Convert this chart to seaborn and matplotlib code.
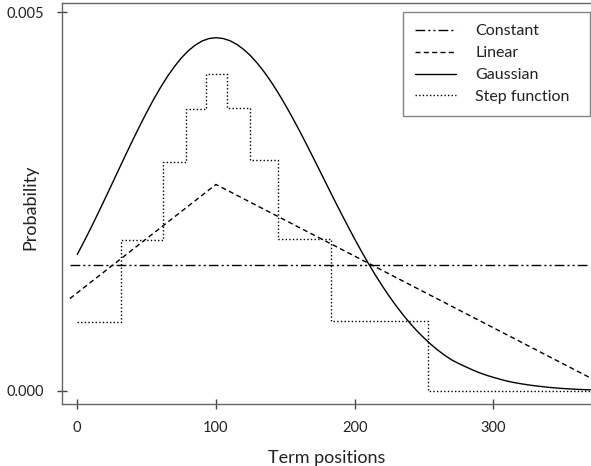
import numpy as np
import pandas as pd
import matplotlib
matplotlib.use("Agg")
import matplotlib.pyplot as plt
import seaborn as sns

# ---- data ----
const_x = [-5.3, 370.0]
const_y = [0.001664, 0.001664]

linear_x = [-5.3, 100.0, 369.6]
linear_y = [0.00122, 0.002727, 0.000176]

gauss_x = [0, 5, 10, 15, 20, 25, 30, 35, 40, 45, 50, 55, 60, 65, 70, 75, 80, 85,
           90, 95, 100, 105, 110, 115, 120, 125, 130, 135, 140, 145, 150, 155,
           160, 165, 170, 175, 180, 185, 190, 195, 200, 205, 210, 215, 220, 225,
           230, 235, 240, 245, 250, 255, 260, 265, 270, 275, 280, 285, 290, 295,
           300, 305, 310, 315, 320, 325, 330, 335, 340, 345, 350, 355, 360, 365,
           370]
gauss_y = [0.001802, 0.001977, 0.002158, 0.002346, 0.002538, 0.002732, 0.002927,
           0.003121, 0.003312, 0.003498, 0.003677, 0.003848, 0.004006, 0.004152,
           0.004282, 0.004396, 0.004491, 0.004566, 0.004621, 0.004654, 0.004665,
           0.004655, 0.004626, 0.004577, 0.004510, 0.004426, 0.004324, 0.004207,
           0.004076, 0.003933, 0.003778, 0.003614, 0.003444, 0.003267, 0.003086,
           0.002903, 0.002719, 0.002536, 0.002356, 0.002180, 0.002007, 0.001841,
           0.001681, 0.001529, 0.001385, 0.001249, 0.001122, 0.001003, 0.000893,
           0.000792, 0.000700, 0.000615, 0.000539, 0.000470, 0.000410, 0.000362,
           0.000320, 0.000278, 0.000240, 0.000208, 0.000180, 0.000154, 0.000130,
           0.000111, 0.000095, 0.000081, 0.000068, 0.000058, 0.000048, 0.000040,
           0.000033, 0.000027, 0.000022, 0.000018, 0.000015]

step_x = [0, 31.5, 61.5, 78.6, 92.7, 108.3, 124.8, 144.6, 183.0, 252.6, 370.0]
step_y = [0.000915, 0.00199, 0.003027, 0.003719, 0.004185, 0.00374, 0.00305,
          0.002003, 0.000924, 0.0, 0.0]

x_ticks = [0, 100, 200, 300]
y_ticks = [0.000, 0.005]
y_tick_labels = ["0.000", "0.005"]
series_labels = ["Constant", "Linear", "Gaussian", "Step function"]

# ---- style ----
sns.set_style("white")
plt.rcParams["font.family"] = ["Lato", "DejaVu Sans"]

fig = plt.figure(figsize=(5.91, 4.66), dpi=100)
ax = fig.add_axes([61.7 / 591, (466 - 404) / 466, (591 - 61.7) / 591, (404 - 3) / 466])

lw = 1.0
sns.lineplot(x=const_x, y=const_y, ax=ax, color="black", lw=lw, sort=False,
             estimator=None, linestyle=(0, (7, 2.2, 1.5, 2.2, 1.5, 2.2)),
             label=series_labels[0])
sns.lineplot(x=linear_x, y=linear_y, ax=ax, color="black", lw=lw, sort=False,
             estimator=None, linestyle=(0, (3.6, 2.4)), label=series_labels[1])
sns.lineplot(x=gauss_x, y=gauss_y, ax=ax, color="black", lw=lw, sort=False,
             estimator=None, linestyle="-", label=series_labels[2])
sns.lineplot(x=step_x, y=step_y, ax=ax, color="black", lw=lw, sort=False,
             estimator=None, linestyle=(0, (1.0, 1.6)), drawstyle="steps-post",
             label=series_labels[3])

ax.set_xlim(-11.2, 370.4)
ax.set_ylim(-0.000172, 0.005123)
ax.set_xticks(x_ticks)
ax.set_yticks(y_ticks)
ax.set_yticklabels(y_tick_labels)

spine_col = "#666666"
for s in ["left", "bottom", "top"]:
    ax.spines[s].set_visible(True)
    ax.spines[s].set_color(spine_col)
    ax.spines[s].set_linewidth(1.0)
ax.spines["right"].set_visible(False)

ax.tick_params(axis="both", direction="inout", length=7, width=1.0,
               color="#444444", labelsize=10.5, labelcolor="#222222")
ax.tick_params(axis="x", pad=9)
ax.tick_params(axis="y", pad=9)
ax.tick_params(left=True, bottom=True)

ax.set_xlabel("Term positions", fontsize=13, color="#222222", labelpad=10.5)
ax.set_ylabel("Probability", fontsize=13, color="#222222")
ax.yaxis.set_label_coords(-0.045, 0.49)

lx0 = (402.7 - 61.7) / 529.3
lx1 = (590 - 61.7) / 529.3
ly1 = (404 - 12.3) / 401
leg = ax.legend(loc="upper left", bbox_to_anchor=(lx0, ly1 - 0.3, lx1 - lx0, 0.3),
                mode="expand", borderaxespad=0, frameon=True, fancybox=False,
                fontsize=11.5, handlelength=2.6, handletextpad=1.2,
                labelspacing=0.48, borderpad=0.75)
leg.get_frame().set_edgecolor(spine_col)
leg.get_frame().set_linewidth(1.0)
for t in leg.get_texts():
    t.set_color("#222222")

fig.savefig("out.png", dpi=100)
